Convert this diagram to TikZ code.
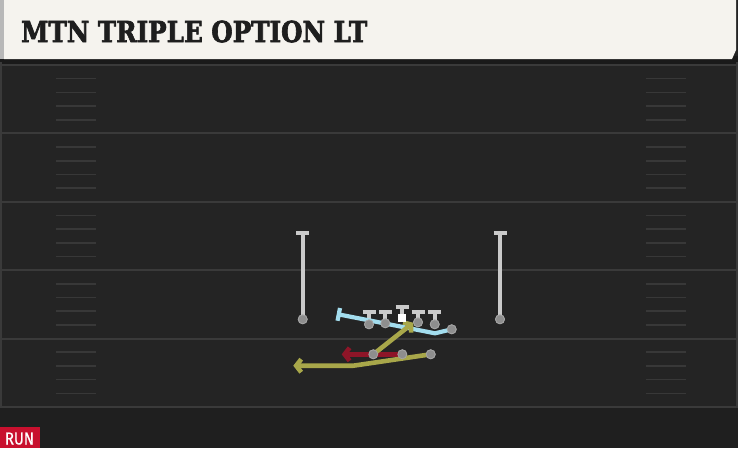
\documentclass[tikz,border=0pt]{standalone}
\usepackage{fontspec}
\usetikzlibrary{arrows.meta}
\newfontfamily\titlefont{DejaVu Serif}[FakeBold=2.5]
\newfontfamily\runfont{Fira Sans}[FakeBold=0.6]
\definecolor{fieldc}{HTML}{242424}
\definecolor{bottomc}{HTML}{1F1F1F}
\definecolor{shadowc}{HTML}{1A1A1A}
\definecolor{cream}{HTML}{F5F3EE}
\definecolor{stripc}{HTML}{B8B8B8}
\definecolor{yardc}{HTML}{3A3A3A}
\definecolor{hashc}{HTML}{383838}
\definecolor{plyr}{HTML}{CACACA}
\definecolor{dotc}{HTML}{8E8E8E}
\definecolor{bluec}{HTML}{A3DDEE}
\definecolor{olivec}{HTML}{A8A74A}
\definecolor{redc}{HTML}{8E1528}
\definecolor{runred}{HTML}{C8102E}
\definecolor{titlec}{HTML}{1E1E1E}
\begin{document}
\begin{tikzpicture}[x=1pt,y=-1pt,
  yard/.style={draw=yardc, line width=2pt},
  hashm/.style={draw=hashc, line width=1.6pt},
  rcv/.style={draw=plyr, line width=4pt},
  pdot/.style={circle, fill=dotc, draw=dotc!80!white, line width=0.8pt, minimum size=9pt, inner sep=0pt},
  ctr/.style={fill=white, minimum size=8.5pt, inner sep=0pt},
  blue route/.style={draw=bluec, line width=4.2pt, line join=round},
  olive route/.style={draw=olivec, line width=4.6pt, line join=round},
  red route/.style={draw=redc, line width=4.6pt},
  barb/.style={-{Straight Barb[length=5pt,width=13pt]}}
]
\useasboundingbox (0,0) rectangle (738,448);
\fill[fieldc] (0,0) rectangle (738,448);
\fill[bottomc] (0,408) rectangle (738,448);
\fill[shadowc] (0,56) rectangle (738,65);
\fill[cream] (4,0) -- (736,0) -- (736,50) -- (732,59) -- (4,59) -- cycle;
\fill[stripc] (0,0) rectangle (4,59);
\draw[yardc, line width=1.5pt] (1,62) -- (1,408);
\draw[yardc, line width=1.5pt] (737,62) -- (737,408);
% title
\node[anchor=south west, inner sep=0pt, text=titlec] (title) at (21,42.7)
  {\resizebox{346pt}{21.5pt}{\titlefont\bfseries MTN TRIPLE OPTION LT}};
% yard lines
\foreach \y in {65,133.4,201.8,270.2,338.6,407}
  \draw[yard] (0,\y) -- (738,\y);
% hash marks
\foreach \b in {65,133.4,201.8,270.2,338.6}
  \foreach \k in {1,2,3,4} {
    \draw[hashm] (56,{\b+\k*13.68}) -- (96,{\b+\k*13.68});
    \draw[hashm] (646,{\b+\k*13.68}) -- (686,{\b+\k*13.68});
  }
% RUN label
\fill[runred] (0,427) rectangle (40,448);
\node[inner sep=0pt, text=white] (run) at (19.5,438.6)
  {\resizebox{29pt}{12pt}{\runfont RUN}};
% coordinates
\coordinate (wlt) at (302.7,231);
\coordinate (wrt) at (500,231);
\coordinate (blk) at (336.7,314);
\coordinate (bbend) at (435,333.3);
\coordinate (obend) at (353.3,365.7);
\coordinate (oend) at (293.3,365.7);
\coordinate (rend) at (341.7,354.3);
\coordinate (fbend) at (413.3,322.7);
\coordinate (lt1) at (369,310);
\coordinate (lt2) at (385.3,310);
\coordinate (ct) at (402,305);
\coordinate (lt4) at (418,310);
\coordinate (lt5) at (434.7,310);
% player positions
\path (302.7,319.3) node[pdot] (wl) {};
\path (500,319.3) node[pdot] (wr) {};
\path (451.7,329.3) node[pdot] (te) {};
\path (373.3,354.3) node[pdot] (fb) {};
\path (402.3,354.3) node[pdot] (qb) {};
\path (430.7,354.3) node[pdot] (hb) {};
\path (369,324.3) node[pdot] (g1) {};
\path (385.3,323.3) node[pdot] (g2) {};
\path (418,322.3) node[pdot] (g4) {};
\path (434.7,324.3) node[pdot] (g5) {};
% receivers stems
\draw[rcv, -{Bar[width=13pt]}] (wl.center) -- (wlt);
\draw[rcv, -{Bar[width=13pt]}] (wr.center) -- (wrt);
% linemen stems
\draw[rcv, -{Bar[width=13pt]}] (g1.center) -- (lt1);
\draw[rcv, -{Bar[width=13pt]}] (g2.center) -- (lt2);
\draw[rcv, -{Bar[width=13pt]}] (g4.center) -- (lt4);
\draw[rcv, -{Bar[width=13pt]}] (g5.center) -- (lt5);
\draw[rcv, -{Bar[width=13pt]}] (402,318) -- (ct);
% routes
\draw[blue route, -{Bar[width=13pt]}] (te.center) -- (bbend) -- (blk);
\draw[red route, barb] (qb.center) -- (rend);
\draw[olive route, barb] (hb.center) -- (obend) -- (oend);
\draw[olive route, barb] (fb.center) -- (fbend);
% markers on top
\foreach \n in {wl,wr,te,fb,qb,hb,g1,g2,g4,g5}
  \node[pdot] at (\n) {};
\node[ctr] (c) at (402,318) {};
\end{tikzpicture}
\end{document}
